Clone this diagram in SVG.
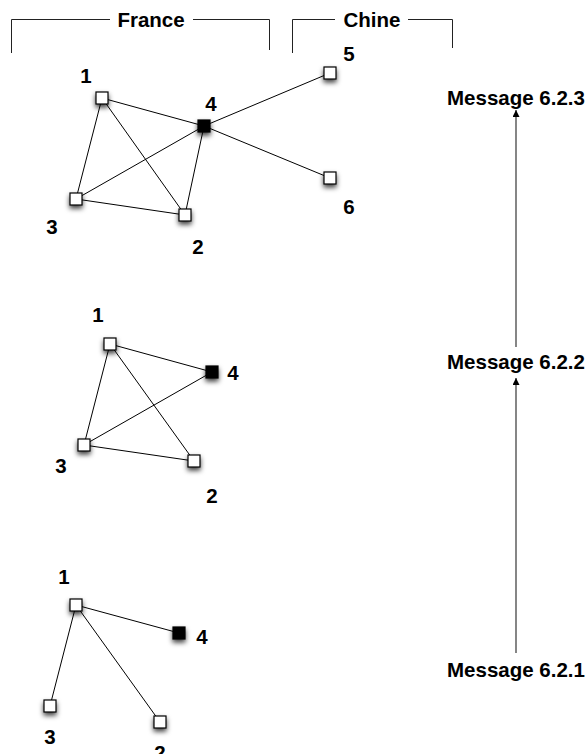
<svg xmlns="http://www.w3.org/2000/svg" width="588" height="754" viewBox="0 0 588 754">
<defs>
<filter id="sh" x="-100%" y="-100%" width="300%" height="300%">
<feDropShadow dx="0" dy="3" stdDeviation="2.4" flood-color="#000" flood-opacity="0.75"/>
</filter>
<marker id="ah" viewBox="0 0 10 10" refX="10" refY="5" markerWidth="8" markerHeight="7" orient="auto" markerUnits="userSpaceOnUse">
<path d="M0,0 L10,5 L0,10 z" fill="#000"/>
</marker>
<style>
text{font-family:"Liberation Sans",Arial,sans-serif;font-weight:bold;font-size:20.5px;fill:#000}
.n{fill:#fff;stroke:#000;stroke-width:1.2;filter:url(#sh)}
.f{fill:#000;stroke:#000;stroke-width:1.2;filter:url(#sh)}
.e{stroke:#000;stroke-width:1;fill:none}
.br{stroke:#222;stroke-width:1;fill:none}
.ar{stroke:#444;stroke-width:1.3;fill:none;marker-end:url(#ah)}
</style>
</defs>
<rect width="588" height="754" fill="#fff"/>
<g id="brackets">
<path class="br" d="M11.5,53 V19.5 H110 M193,19.5 H269.5 V50"/>
<text x="151" y="27" text-anchor="middle">France</text>
<path class="br" d="M292.5,53 V19.5 H335 M408,19.5 H452.5 V48"/>
<text x="372" y="27" text-anchor="middle">Chine</text>
</g>
<g id="connectors">
<line class="e" x1="102" y1="98" x2="204" y2="126"/>
<line class="e" x1="102" y1="98" x2="76" y2="199"/>
<line class="e" x1="102" y1="98" x2="185" y2="215"/>
<line class="e" x1="204" y1="126" x2="76" y2="199"/>
<line class="e" x1="204" y1="126" x2="185" y2="215"/>
<line class="e" x1="76" y1="199" x2="185" y2="215"/>
<line class="e" x1="204" y1="126" x2="330" y2="73"/>
<line class="e" x1="204" y1="126" x2="330" y2="178"/>
<line class="e" x1="110" y1="344" x2="212" y2="372"/>
<line class="e" x1="110" y1="344" x2="84" y2="445"/>
<line class="e" x1="110" y1="344" x2="194" y2="461"/>
<line class="e" x1="212" y1="372" x2="84" y2="445"/>
<line class="e" x1="84" y1="445" x2="194" y2="461"/>
<line class="e" x1="76" y1="605" x2="179" y2="633"/>
<line class="e" x1="76" y1="605" x2="50" y2="706"/>
<line class="e" x1="76" y1="605" x2="160" y2="722"/>
<line class="ar" x1="516" y1="653" x2="516" y2="378"/>
<line class="ar" x1="516" y1="347" x2="516" y2="110"/>
</g>
<g id="g1-n1"><rect class="n" x="96" y="92" width="12" height="12"/><text x="86" y="82.5" text-anchor="middle">1</text></g>
<g id="g1-n4"><rect class="f" x="198" y="120" width="12" height="12"/><text x="211" y="110.5" text-anchor="middle">4</text></g>
<g id="g1-n3"><rect class="n" x="70" y="193" width="12" height="12"/><text x="52" y="233.5" text-anchor="middle">3</text></g>
<g id="g1-n2"><rect class="n" x="179" y="209" width="12" height="12"/><text x="198" y="253.5" text-anchor="middle">2</text></g>
<g id="g1-n5"><rect class="n" x="324" y="67" width="12" height="12"/><text x="349" y="60.5" text-anchor="middle">5</text></g>
<g id="g1-n6"><rect class="n" x="324" y="172" width="12" height="12"/><text x="349" y="213.5" text-anchor="middle">6</text></g>
<g id="g2-n1"><rect class="n" x="104" y="338" width="12" height="12"/><text x="98" y="321.5" text-anchor="middle">1</text></g>
<g id="g2-n4"><rect class="f" x="206" y="366" width="12" height="12"/><text x="233" y="379.5" text-anchor="middle">4</text></g>
<g id="g2-n3"><rect class="n" x="78" y="439" width="12" height="12"/><text x="61" y="472.5" text-anchor="middle">3</text></g>
<g id="g2-n2"><rect class="n" x="188" y="455" width="12" height="12"/><text x="212" y="502.5" text-anchor="middle">2</text></g>
<g id="g3-n1"><rect class="n" x="70" y="599" width="12" height="12"/><text x="64" y="583.5" text-anchor="middle">1</text></g>
<g id="g3-n4"><rect class="f" x="173" y="627" width="12" height="12"/><text x="202" y="643.5" text-anchor="middle">4</text></g>
<g id="g3-n3"><rect class="n" x="44" y="700" width="12" height="12"/><text x="50" y="743.5" text-anchor="middle">3</text></g>
<g id="g3-n2"><rect class="n" x="154" y="716" width="12" height="12"/><text x="160" y="760" text-anchor="middle">2</text></g>
<g id="messages">
<text x="516" y="104.5" text-anchor="middle">Message 6.2.3</text>
<text x="516" y="368.5" text-anchor="middle">Message 6.2.2</text>
<text x="516" y="676.5" text-anchor="middle">Message 6.2.1</text>
</g>
</svg>
